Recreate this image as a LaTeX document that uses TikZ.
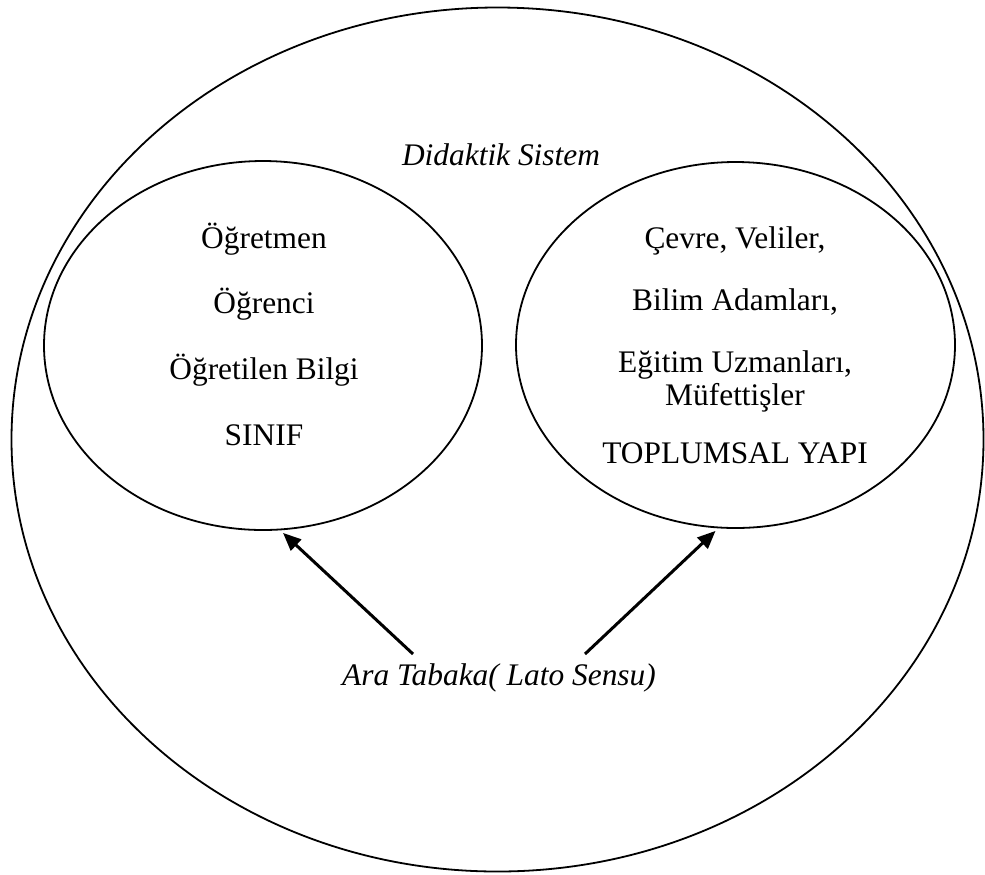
\documentclass[tikz,border=0pt]{standalone}
\usepackage{fontspec}
\setmainfont{Liberation Serif}
\usetikzlibrary{arrows.meta, shapes.geometric}

\begin{document}
\begin{tikzpicture}[
  x=0.5pt, y=-0.5pt,
  halka/.style={draw, ellipse, line width=0.9pt, inner sep=0pt},
  yazi/.style={anchor=base, align=center, inner sep=0pt,
  font=\fontsize{15.7}{16.5}\selectfont},
  ok/.style={-{Triangle[length=9pt,width=7.5pt]}, line width=1.5pt},
]
\useasboundingbox (0,0) rectangle (985,874);
\node[halka, minimum width=486pt, minimum height=432pt] (sistem) at (497.5,439.5) {};
\node[halka, minimum width=219pt, minimum height=184.5pt] (sinifel) at (263,345.5) {};
\node[halka, minimum width=219.5pt, minimum height=183pt] (toplumel) at (735.5,345) {};

\node[yazi] (didaktik) at (501,165) {\itshape Didaktik Sistem};

\node[yazi] (ogretmen) at (264,248) {Öğretmen};
\node[yazi] (ogrenci)  at (264,313) {Öğrenci};
\node[yazi] (bilgi)    at (264,379) {Öğretilen Bilgi};
\node[yazi] (sinif)    at (264,445) {SINIF};

\node[yazi] (cevre)  at (735,248) {Çevre, Veliler,};
\node[yazi] (bilim)  at (735,310) {Bilim Adamları,};
\node[yazi] (uzman)  at (735,405) {Eğitim Uzmanları,\\Müfettişler};
\node[yazi] (toplum) at (735,463) {TOPLUMSAL YAPI};

\node[yazi] (ara) at (499,685) {\itshape Ara Tabaka( Lato Sensu)};

\draw[ok] ([xshift=-43pt,yshift=15.5pt]ara.base) -- ([xshift=10pt,yshift=-1pt]sinifel.south);
\draw[ok] ([xshift=43pt,yshift=15.5pt]ara.base) -- ([xshift=-10pt,yshift=-1pt]toplumel.south);
\end{tikzpicture}
\end{document}
